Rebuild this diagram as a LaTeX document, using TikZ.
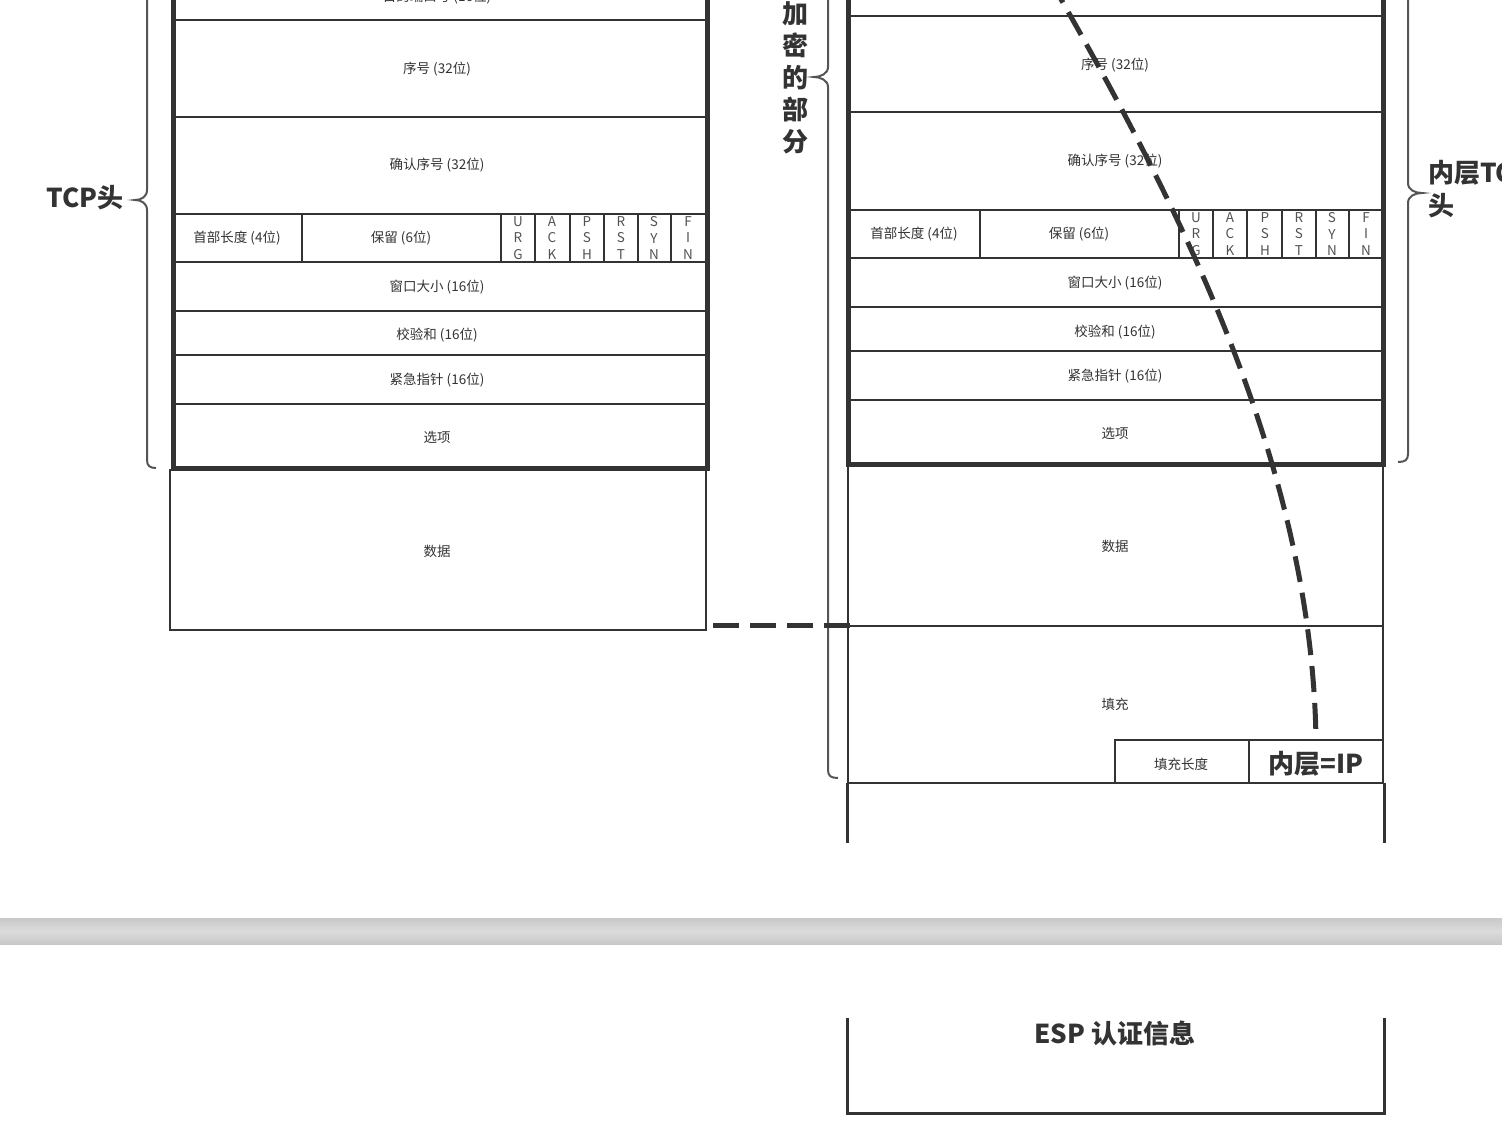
\documentclass[tikz,border=0pt]{standalone}
\usepackage{fontspec}
\setmainfont{Noto Sans CJK SC}
\definecolor{ink}{HTML}{333333}
\definecolor{brc}{HTML}{555555}
\definecolor{bard}{HTML}{C8C8C8}
\definecolor{barl}{HTML}{DCDCDC}
\tikzset{
  heavy/.style={line width=5pt, draw=ink},
  light/.style={line width=2pt, draw=ink},
  mid/.style={line width=3pt, draw=ink},
  lbl/.style={font=\fontsize{13.5}{16}\selectfont, text=ink, inner sep=0pt},
  flag/.style={font=\fontsize{13.5}{16.5}\selectfont, text=ink!85, align=center, inner sep=0pt},
  big/.style={font=\fontsize{26}{33}\selectfont\bfseries, text=ink, inner sep=0pt},
  dashln/.style={line width=5pt, draw=ink, dash pattern=on 26pt off 11pt},
  bracel/.style={line width=2pt, draw=brc},
}
\begin{document}
\begin{tikzpicture}[x=1pt, y=-1pt]
\useasboundingbox (0,0) rectangle (1502,1132);
\clip (0,0) rectangle (1502,1132);
\fill[white] (0,0) rectangle (1502,1132);

% ---------------- left TCP column ----------------
\foreach \yy in {20,117,214,262,311,355,404}
  \draw[light] (173,\yy) -- (707,\yy);
\foreach \xx in {302,501,535,570,604,638,671}
  \draw[light] (\xx,214) -- (\xx,262);
\draw[light] (170,470) rectangle (706,630);
\draw[heavy] (173,-20) -- (173,468) -- (707,468) -- (707,-20);

\node[lbl] (lport) at (437,-3) {目的端口号 (16位)};
\node[lbl] (lseq) at (437,69) {序号 (32位)};
\node[lbl] (lack) at (437,165) {确认序号 (32位)};
\node[lbl] (lhl) at (237,238) {首部长度 (4位)};
\node[lbl] (lres) at (401,238) {保留 (6位)};
\node[flag] (lurg) at (518,238) {U\\R\\G};
\node[flag] (lackf) at (552,238) {A\\C\\K};
\node[flag] (lpsh) at (587,238) {P\\S\\H};
\node[flag] (lrst) at (621,238) {R\\S\\T};
\node[flag] (lsyn) at (654,238) {S\\Y\\N};
\node[flag] (lfin) at (688,238) {F\\I\\N};
\node[lbl] (lwin) at (437,287) {窗口大小 (16位)};
\node[lbl] (lsum) at (437,335) {校验和 (16位)};
\node[lbl] (lurgp) at (437,380) {紧急指针 (16位)};
\node[lbl] (lopt) at (437,437) {选项};
\node[lbl] (ldata) at (437,551) {数据};

% left brace
\draw[bracel] (147,-40) -- (147,190) .. controls (147,197) and (141,200) .. (135,200)
  .. controls (141,200) and (147,203) .. (147,210) -- (147,460)
  .. controls (147,466) and (150,468) .. (156,468);
\node[big, anchor=east] (tcphead) at (124,198) {TCP头};

% ---------------- right ESP column ----------------
\foreach \yy in {16,112,210,258,307,351,400}
  \draw[light] (848,\yy) -- (1383,\yy);
\foreach \xx in {980,1179,1213,1247,1282,1316,1349}
  \draw[light] (\xx,210) -- (\xx,258);
\draw[light] (848,464) rectangle (1383,783);
\draw[light] (848,626) -- (1383,626);
\draw[light] (1115,740) rectangle (1249,783);
\draw[light] (1249,740) -- (1383,740);
\draw[heavy] (848,-20) -- (848,464) -- (1383,464) -- (1383,-20);
\draw[mid] (847,783) -- (847,843);
\draw[mid] (1384,783) -- (1384,843);
\draw[mid] (847,1018) -- (847,1113) -- (1384,1113) -- (1384,1018);

\node[lbl] (rseq) at (1115,65) {序号 (32位)};
\node[lbl] (rack) at (1115,161) {确认序号 (32位)};
\node[lbl] (rhl) at (914,234) {首部长度 (4位)};
\node[lbl] (rres) at (1079,234) {保留 (6位)};
\node[flag] (rurg) at (1196,234) {U\\R\\G};
\node[flag] (rackf) at (1230,234) {A\\C\\K};
\node[flag] (rpsh) at (1265,234) {P\\S\\H};
\node[flag] (rrst) at (1299,234) {R\\S\\T};
\node[flag] (rsyn) at (1332,234) {S\\Y\\N};
\node[flag] (rfin) at (1366,234) {F\\I\\N};
\node[lbl] (rwin) at (1115,283) {窗口大小 (16位)};
\node[lbl] (rsum) at (1115,332) {校验和 (16位)};
\node[lbl] (rurgp) at (1115,376) {紧急指针 (16位)};
\node[lbl] (ropt) at (1115,433) {选项};
\node[lbl] (rdata) at (1115,546) {数据};
\node[lbl] (rpad) at (1115,704) {填充};
\node[lbl] (rpadlen) at (1181,764) {填充长度};
\node[big] (inner) at (1316,764) {内层=IP};
\node[big] (espauth) at (1115,1034) {ESP 认证信息};

% brace: encrypted part
\draw[bracel] (828,-40) -- (828,67) .. controls (828,74) and (820,77) .. (814,77)
  .. controls (820,77) and (828,80) .. (828,87) -- (828,770)
  .. controls (828,776) and (831,778) .. (838,778);
\node[big, align=center, font=\fontsize{26}{32}\selectfont\bfseries] (encpart) at (795,78) {加\\密\\的\\部\\分};

% brace: inner TCP header
\draw[bracel] (1408,-40) -- (1408,183) .. controls (1408,190) and (1415,193) .. (1422,193)
  .. controls (1415,193) and (1408,196) .. (1408,203) -- (1408,454)
  .. controls (1408,460) and (1405,462) .. (1398,462);
\node[big, anchor=north west, align=left] (innertcp) at (1428,160) {内层TCP\\头};

% gray separator bar
\shade[top color=bard, bottom color=bard, middle color=barl] (0,918) rectangle (1502,944);

% dashed connectors
\coordinate (hdA) at (713,625);
\coordinate (hdB) at (852,625);
\draw[dashln] (hdA) -- (hdB);
\coordinate (cvA) at (1050,-20);
\draw[dashln] (cvA) .. controls (1185,215) and (1312,470) .. (inner.north |- 0,740);
\end{tikzpicture}
\end{document}
